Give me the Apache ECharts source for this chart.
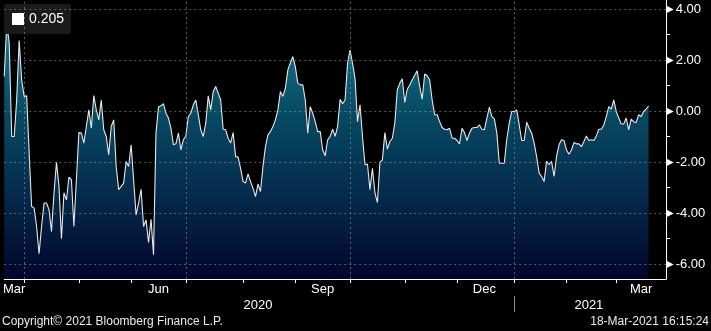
<!DOCTYPE html>
<html>
<head>
<meta charset="utf-8">
<script src="https://cdn.jsdelivr.net/npm/echarts@6/dist/echarts.min.js"></script>
<style>
  html, body { margin: 0; padding: 0; background: #000; }
  #chart { width: 711px; height: 331px; }
</style>
</head>
<body>
<div id="chart"></div>
<script>
// daily values, one per trading day starting 20-Mar-2020 (trading days are evenly spaced on the chart)
const firstDay = '2020-03-20';
const values = [
  1.36, 3.45, 2.67, -0.99, -0.99, 0.44, 2.77, 1.23, 0.58, 0.60,
  -1.60, -3.74, -3.80, -4.52, -5.59, -4.52, -3.60, -3.60, -3.86, -4.72,
  -3.20, -2.00, -2.95, -5.00, -3.20, -3.48, -2.59, -2.69, -4.52, -2.70,
  -0.84, -0.86, -1.25, -0.60, 0.05, -0.67, 0.61, 0.05, -0.34, 0.44,
  -0.73, -0.99, -1.71, -0.60, -0.34, -2.17, -3.08, -2.95, -2.82, -1.97,
  -2.17, -1.32, -2.69, -4.07, -3.60, -3.06, -4.52, -4.26, -5.15, -4.24,
  -5.63, -0.86, 0.16, 0.21,
  0.29, -0.08, -0.27, -0.67, -1.32, -1.28, -0.86, -1.52, -1.12, -0.97,
  -0.21, -0.08, 0.25, 0.44, -0.14, -0.73, -0.99, -0.47, 0.60, 0.05,
  0.77, 0.97, 0.71, 0.44, -0.71, -0.73, -1.06, -1.25, -0.84, -1.78,
  -1.80, -2.24, -2.76, -2.82, -2.46, -2.76, -3.02, -3.35, -2.86, -3.15,
  -2.17, -1.39, -0.93, -0.80, -0.60, -0.34, 0.05, 0.77, 0.58, 0.90,
  1.62, 1.90, 2.14, 1.75, 1.10, 1.03, 1.03, 0.44, -0.86, 0.18,
  -0.08, -0.41, -0.80, -0.80,
  -1.52, -1.75, -1.12, -0.99, -0.71, -0.99, -0.60, 0.47, 0.29, 0.44,
  1.88, 2.40, 1.88, 1.29, -0.41, 0.25, -0.99, -2.10, -2.07, -3.08,
  -2.24, -3.20, -3.58, -2.01, -1.91, -0.84, -1.49, -1.19, -1.06, -0.47,
  0.84, 1.10, 1.27, 0.34, 0.86, 1.03, 1.23, 1.42, 1.58, 0.97,
  0.47, 1.46, 1.39, 1.23, 0.44, -0.14, -0.14, -0.41, -0.64, -0.71,
  -0.73, -0.67, -1.06, -1.06, -1.15, -1.28, -0.67, -0.84, -1.15, -0.86,
  -0.67, -0.64, -0.64, -0.54, -0.71,
  -0.73, -0.27, 0.16, -0.21, -0.30, -0.86, -2.04, -2.04, -2.04, -1.10,
  -0.47, -0.01, -0.01, 0.05, -0.54, -1.15, -1.15, -0.43, -0.67, -0.86,
  -1.25, -1.78, -2.43, -2.56, -2.76, -1.97, -2.10, -1.97, -2.56, -1.78,
  -1.32, -1.12, -1.15, -1.52, -1.69, -1.52, -1.23, -1.28, -1.28, -1.39,
  -1.19, -0.97, -1.15, -1.12, -1.15, -0.97, -0.71, -0.71, -0.54, -0.21,
  0.18, 0.08, 0.44, -0.01, -0.27, -0.50, -0.50, -0.27, -0.73, -0.31,
  -0.41, -0.45, -0.14, -0.21, -0.01, 0.08, 0.205
];
const lastLabel = '0.205';

const axisEnd = '2021-03-29';
const monthTicks = ['2020-04-01', '2020-05-01', '2020-06-01', '2020-07-01', '2020-08-01', '2020-09-01',
  '2020-10-01', '2020-11-01', '2020-12-01', '2021-01-01', '2021-02-01', '2021-03-01'];
const monthLabelDates = ['2020-03-26', '2020-06-16', '2020-09-16', '2020-12-16', '2021-03-15'];
const monthLabels = ['Mar', 'Jun', 'Sep', 'Dec', 'Mar'];
const quarterLines = ['2020-04-01', '2020-07-01', '2020-10-01', '2021-01-01'];
const yearLabelDates = ['2020-08-11', '2021-02-12'];
const yearLabels = ['2020', '2021'];
const yearBreak = ['2021-01-01'];
const yTicks = [-6, -4, -2, 0, 2, 4];
const yMinorTicks = [-5, -3, -1, 1, 3];

// trading-day calendar (Mon-Fri): x position of a day = its index in this list
const ts = s => Date.parse(s + 'T00:00:00Z');
const calendar = [];
for (let t = ts(firstDay); t <= ts('2021-04-30'); t += 86400000) {
  const wd = new Date(t).getUTCDay();
  if (wd !== 0 && wd !== 6) calendar.push(t);
}
const dayX = s => {
  const t = ts(s);
  return calendar.findIndex(c => c >= t);
};

const monthText = {};
monthLabelDates.forEach((s, i) => { monthText[dayX(s)] = monthLabels[i]; });
const yearText = {};
yearLabelDates.forEach((s, i) => { yearText[dayX(s)] = yearLabels[i]; });

const xMin = 0;
const xMax = dayX(axisEnd);
const font = 'Liberation Sans';

const chart = echarts.init(document.getElementById('chart'));

chart.setOption({
  backgroundColor: '#000',
  animation: false,
  grid: { left: 0, right: 45, top: 0, bottom: 52, containLabel: false },
  legend: {
    left: 4, top: 4,
    padding: [8, 7, 8, 8],
    backgroundColor: '#1a1a1a',
    borderRadius: 3,
    icon: 'rect',
    itemWidth: 12, itemHeight: 12,
    itemGap: 5,
    textStyle: { color: '#fff', fontSize: 14, fontFamily: font },
    data: [lastLabel]
  },
  xAxis: [{
    type: 'value',
    min: xMin, max: xMax,
    position: 'bottom',
    axisLine: { show: true, onZero: false, lineStyle: { color: '#fff', width: 1 } },
    axisTick: { show: true, customValues: monthTicks.map(dayX), length: 4, lineStyle: { color: '#fff' } },
    axisLabel: {
      customValues: monthLabelDates.map(dayX),
      margin: 4,
      color: '#fff', fontSize: 13, fontFamily: font,
      formatter: v => monthText[v] || ''
    },
    splitLine: { show: false }
  }, {
    type: 'value',
    min: xMin, max: xMax,
    position: 'bottom',
    offset: 17,
    axisLine: { show: false, onZero: false },
    axisTick: { show: true, customValues: yearBreak.map(dayX), length: 16, lineStyle: { color: '#8c8c8c' } },
    axisLabel: {
      customValues: yearLabelDates.map(dayX),
      margin: 3,
      color: '#fff', fontSize: 13, fontFamily: font,
      formatter: v => yearText[v] || ''
    },
    splitLine: { show: false }
  }],
  yAxis: [{
    type: 'value',
    position: 'right',
    min: -6.58, max: 4.36,
    axisLine: { show: true, onZero: false, lineStyle: { color: '#fff', width: 1 } },
    axisTick: { show: false, customValues: yTicks },
    axisLabel: {
      customValues: yTicks,
      margin: 0,
      formatter: v => '{t|▶}{v|' + v.toFixed(2) + '}',
      rich: {
        t: { fontFamily: 'DejaVu Sans', fontSize: 10, color: '#fff', padding: [0, 2, 0, 0] },
        v: { fontFamily: font, fontSize: 13, color: '#fff' }
      }
    },
    splitLine: { show: false }
  }, {
    type: 'value',
    position: 'right',
    min: -6.58, max: 4.36,
    axisLine: { show: false, onZero: false },
    axisTick: { show: true, customValues: yMinorTicks, length: 4, lineStyle: { color: '#fff' } },
    axisLabel: { show: false },
    splitLine: { show: false }
  }],
  series: [{
    name: lastLabel,
    type: 'line',
    xAxisIndex: 0,
    yAxisIndex: 0,
    data: values.map((v, i) => [i, v]),
    showSymbol: false,
    symbol: 'none',
    itemStyle: { color: '#fff' },
    lineStyle: { color: '#e8e8e8', width: 1.1 },
    areaStyle: {
      origin: 'start',
      opacity: 1,
      color: new echarts.graphic.LinearGradient(0, 0, 0, 1, [
        { offset: 0, color: '#127a94' },
        { offset: 0.35, color: '#064a63' },
        { offset: 0.65, color: '#052d4e' },
        { offset: 1, color: '#02052b' }
      ])
    },
    markLine: {
      silent: true,
      symbol: ['none', 'none'],
      label: { show: false },
      lineStyle: { type: [2, 3], color: 'rgba(150,150,150,0.6)', width: 1 },
      emphasis: { disabled: true },
      data: quarterLines.map(q => ({ xAxis: dayX(q) })).concat(yTicks.map(v => ({ yAxis: v })))
    }
  }],
  graphic: [{
    type: 'text', left: 2, top: 316,
    style: { text: 'Copyright© 2021 Bloomberg Finance L.P.', fill: '#ececec', font: '12px "Liberation Sans"' }
  }, {
    type: 'text', right: 2, top: 316,
    style: { text: '18-Mar-2021 16:15:24', fill: '#ececec', font: '12px "Liberation Sans"' }
  }]
});
</script>
</body>
</html>
